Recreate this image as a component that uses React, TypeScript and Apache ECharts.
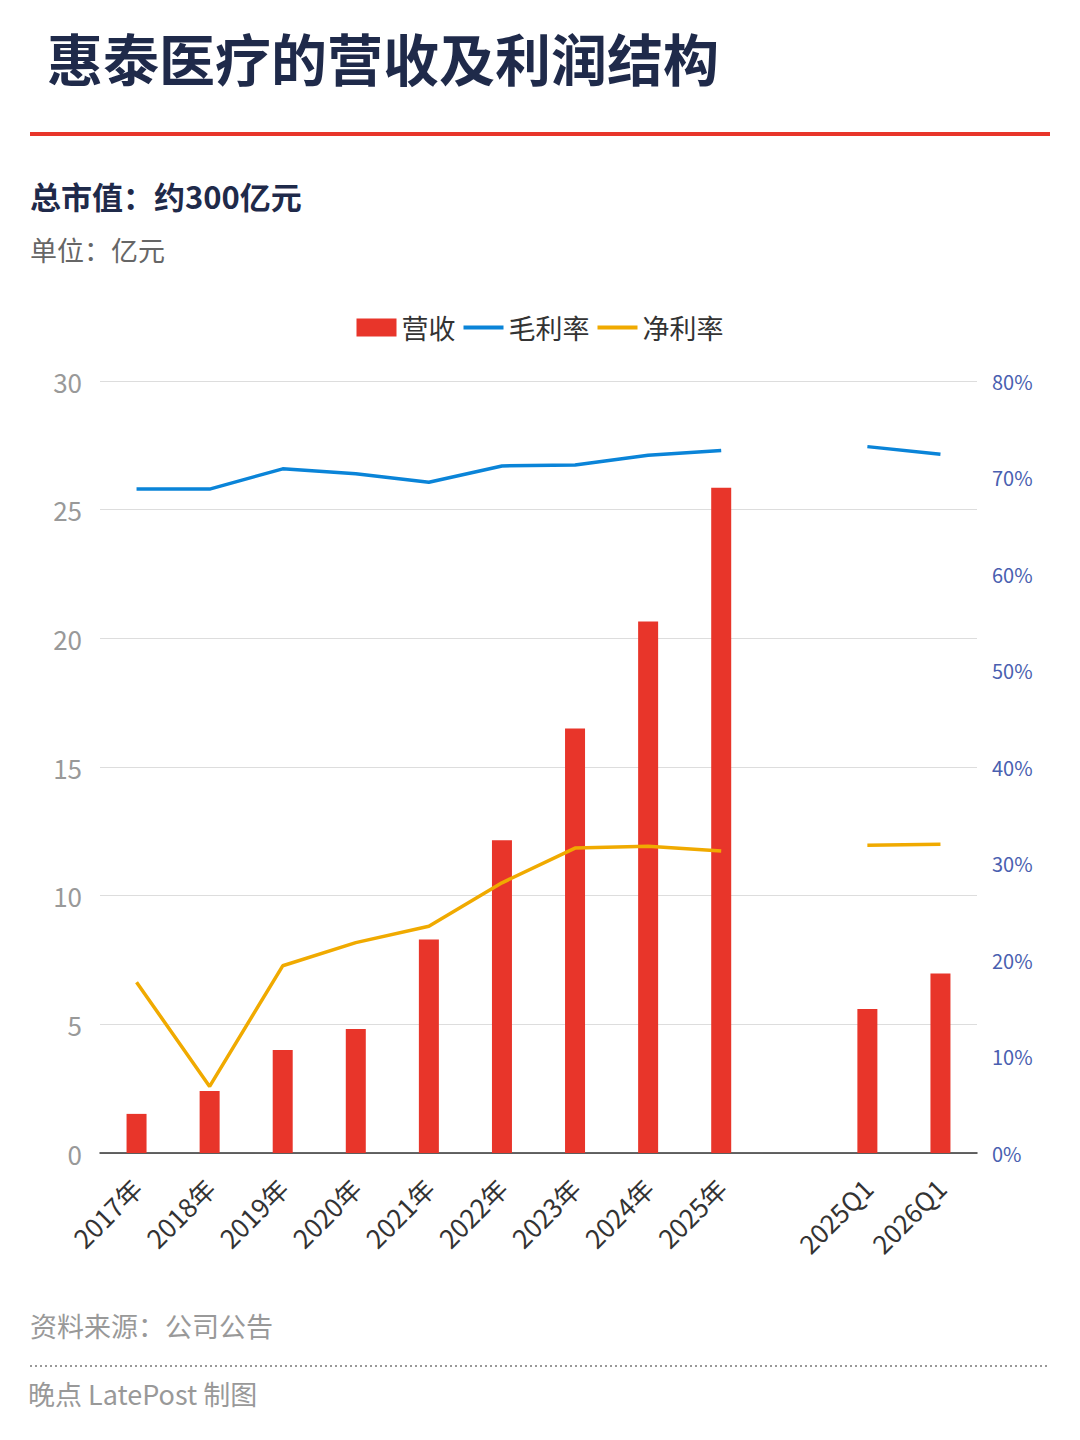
import React, { useEffect, useRef } from "react";
import * as echarts from "echarts";

const categories = ["2017年", "2018年", "2019年", "2020年", "2021年", "2022年", "2023年", "2024年", "2025年", "", "2025Q1", "2026Q1"];
const revenue = [1.52, 2.41, 4.0, 4.82, 8.3, 12.15, 16.5, 20.65, 25.85, null, 5.6, 6.98];
const grossMargin = [68.8, 68.8, 70.9, 70.4, 69.5, 71.2, 71.3, 72.3, 72.8, null, 73.2, 72.4];
const netMargin = [17.7, 6.9, 19.4, 21.8, 23.5, 28.0, 31.6, 31.8, 31.3, null, 31.9, 32.0];

const FONT = "'Noto Sans CJK SC', 'Noto Sans', sans-serif";
const LINE_ICON = "path://M0,0H40V4H0Z";

export default function App() {
  const ref = useRef<HTMLDivElement>(null);
  useEffect(() => {
    const chart = echarts.init(ref.current!, null, { renderer: "svg" });
    chart.setOption({
      animation: false,
      backgroundColor: "#fff",
      textStyle: { fontFamily: FONT },
      graphic: [
        { type: "text", left: 47, top: 28, style: { text: "惠泰医疗的营收及利润结构", font: `bold 56px ${FONT}`, fill: "#1f2a4a" } },
        { type: "rect", shape: { x: 30, y: 132, width: 1020, height: 4 }, style: { fill: "#e8352a" } },
        { type: "text", left: 30, top: 180, style: { text: "总市值：约300亿元", font: `bold 31px ${FONT}`, fill: "#1f2a4a" } },
        { type: "text", left: 30, top: 236, style: { text: "单位：亿元", font: `27px ${FONT}`, fill: "#666" } },
        { type: "text", left: 30, top: 1312, style: { text: "资料来源：公司公告", font: `27px ${FONT}`, fill: "#999" } },
        { type: "line", shape: { x1: 30, y1: 1366, x2: 1050, y2: 1366 }, style: { stroke: "#999", lineWidth: 2, lineDash: [2, 3] } },
        { type: "text", left: 28, top: 1380, style: { text: "晚点 LatePost 制图", font: `27px ${FONT}`, fill: "#999" } },
      ],
      legend: {
        top: 309,
        left: "center",
        itemWidth: 40,
        itemHeight: 18,
        itemGap: 8,
        textStyle: { fontSize: 27, color: "#333", fontFamily: FONT },
        data: [
          { name: "营收", icon: "rect" },
          { name: "毛利率", icon: LINE_ICON, itemHeight: 4 },
          { name: "净利率", icon: LINE_ICON, itemHeight: 4 },
        ],
      },
      grid: { left: 100, right: 103, top: 381, bottom: 287 },
      xAxis: {
        type: "category",
        data: categories,
        axisTick: { show: false },
        axisLine: { lineStyle: { color: "#333", width: 1.5 } },
        axisLabel: { rotate: 45, fontSize: 26, color: "#333", interval: 0, margin: 30, fontFamily: FONT },
      },
      yAxis: [
        {
          type: "value", min: 0, max: 30, interval: 5,
          axisLabel: { fontSize: 26, color: "#999", margin: 18, fontFamily: FONT },
          splitLine: { lineStyle: { color: "#ddd" } },
          axisLine: { show: false }, axisTick: { show: false },
        },
        {
          type: "value", min: 0, max: 80, interval: 10,
          axisLabel: { fontSize: 20, color: "#4a5fb0", margin: 15, formatter: "{value}%", fontFamily: FONT },
          splitLine: { show: false },
          axisLine: { show: false }, axisTick: { show: false },
        },
      ],
      series: [
        { name: "营收", type: "bar", data: revenue, barWidth: 20, itemStyle: { color: "#e8352a" } },
        { name: "毛利率", type: "line", yAxisIndex: 1, data: grossMargin, showSymbol: false, symbol: "none", lineStyle: { width: 3.5, color: "#0a84d8" }, itemStyle: { color: "#0a84d8" } },
        { name: "净利率", type: "line", yAxisIndex: 1, data: netMargin, showSymbol: false, symbol: "none", lineStyle: { width: 3.5, color: "#f0aa00" }, itemStyle: { color: "#f0aa00" } },
      ],
    });
    return () => chart.dispose();
  }, []);
  return <div ref={ref} style={{ position: "absolute", left: 0, top: 0, width: 1080, height: 1440 }} />;
}
